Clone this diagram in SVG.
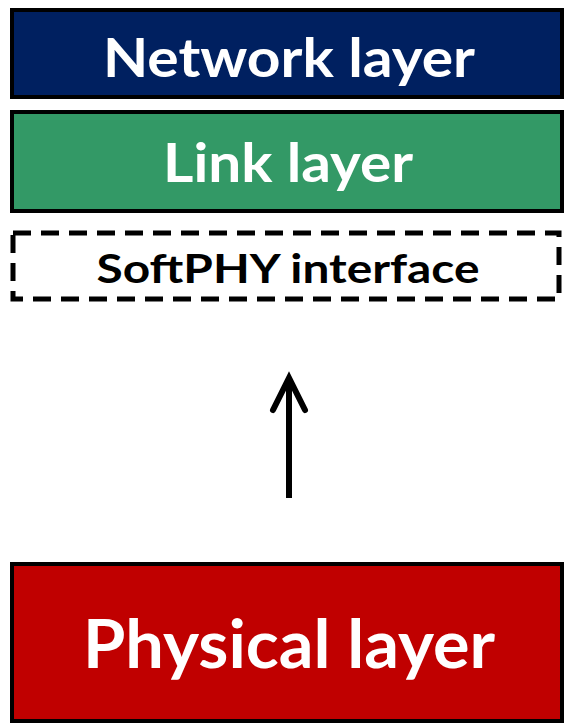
<svg xmlns="http://www.w3.org/2000/svg" width="566" height="724" viewBox="0 0 566 724">
  <style>
    .box { stroke: #000; stroke-width: 4; }
    .label { font-family: Lato, "Open Sans", "Liberation Sans", sans-serif; font-weight: bold; text-anchor: middle; }
    .white { fill: #fff; }
  </style>
  <defs>
    <!-- open chevron arrowhead, drawn along the marker's x-axis -->
    <marker id="head" viewBox="-40 -22 48 44" refX="-6" refY="0" markerWidth="48" markerHeight="44" markerUnits="userSpaceOnUse" orient="auto">
      <polyline points="-32,-16 0,0 -32,16" fill="none" stroke="#000" stroke-width="6" stroke-linecap="round" stroke-linejoin="miter"/>
    </marker>
  </defs>
  <rect width="566" height="724" fill="#fff"/>

  <g id="network-layer">
    <rect class="box" x="12" y="10" width="550" height="87" fill="#002060"/>
    <text class="label white" x="289" y="77" font-size="54" textLength="372" lengthAdjust="spacingAndGlyphs">Network layer</text>
  </g>

  <g id="link-layer">
    <rect class="box" x="12" y="112" width="550" height="99" fill="#339966"/>
    <text class="label white" x="288" y="182" font-size="54" textLength="250" lengthAdjust="spacingAndGlyphs">Link layer</text>
  </g>

  <g id="softphy-interface">
    <rect x="13" y="233" width="546" height="66" fill="none" stroke="#000" stroke-width="5" stroke-dasharray="18,10"/>
    <text class="label" x="288" y="283" font-size="40" fill="#000" textLength="383" lengthAdjust="spacingAndGlyphs">SoftPHY interface</text>
  </g>

  <g id="physical-layer">
    <rect class="box" x="12" y="564" width="550" height="157" fill="#c00000"/>
    <text class="label white" x="289" y="668" font-size="66" textLength="412" lengthAdjust="spacingAndGlyphs">Physical layer</text>
  </g>

  <g id="connectors">
    <line x1="289" y1="498" x2="289" y2="384" stroke="#000" stroke-width="6" marker-end="url(#head)"/>
  </g>
</svg>
